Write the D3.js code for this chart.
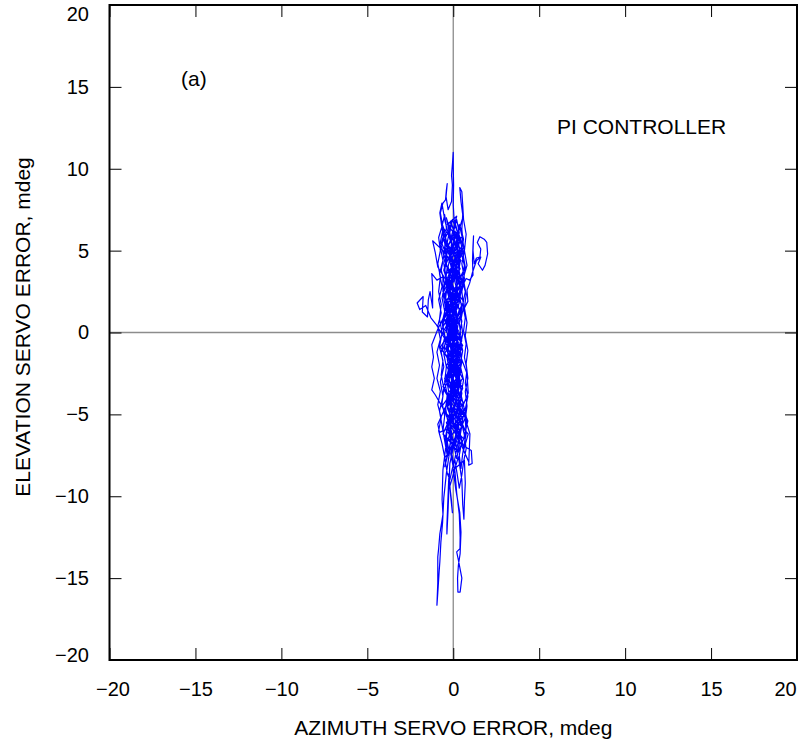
<!DOCTYPE html>
<html>
<head>
<meta charset="utf-8">
<script src="https://cdn.jsdelivr.net/npm/d3@7"></script>
<style>
  body { margin: 0; background: #ffffff; }
  svg text { font-family: "Liberation Sans", Arial, Helvetica, sans-serif; }
</style>
</head>
<body>
<div id="chart"></div>
<script>
// tick values for both axes (mdeg)
var ticks = [-20, -15, -10, -5, 0, 5, 10, 15, 20];

// servo error trace [azimuth, elevation] in pieces
var coreA = [[0.0,0.0],[0.35,1.4],[-0.25,2.6],[0.4,3.9],[-0.15,5.1],[0.45,5.8],[0.05,4.4],[-0.45,3.0],[0.25,1.7],[-0.35,0.3],[0.5,-1.0],[-0.2,-2.3],[0.3,-3.6],[-0.55,-4.7],[0.15,-5.9],[0.6,-5.0],[-0.1,-3.8],[0.45,-2.4],[-0.65,-1.1],[0.1,0.5],[0.6,1.9],[-0.3,3.2],[0.2,4.5],[-0.5,5.7],[-0.1,6.6],[0.3,5.4],[0.7,4.0],[0.1,2.7],[-0.45,1.4],[0.3,0.1],[-0.2,-1.4],[0.55,-2.8],[-0.35,-4.1],[0.4,-5.4],[-0.25,-6.6],[0.3,-7.3],[0.75,-6.1],[0.2,-4.8],[-0.55,-3.5],[0.05,-2.2],[-0.75,-0.9],[0.0,0.4],[0.5,1.7],[-0.2,3.0],[0.45,4.4],[-0.3,5.3],[0.25,6.2],[0.65,5.1],[0.0,3.7],[-0.6,2.4],[0.15,1.0],[-0.4,-0.4],[0.35,-1.7],[-0.1,-3.1],[0.6,-4.3],[-0.4,-5.5],[0.05,-6.8],[-0.45,-7.6],[0.25,-6.3],[0.7,-5.2],[-0.2,-4.0],[0.35,-2.6],[-0.5,-1.3],[0.2,0.2],[-0.1,1.5],[0.55,2.9],[-0.45,4.1],[0.1,5.5],[-0.6,6.4]];

var upperSpike = [[-0.75,7.3],[-0.6,7.9],[-0.45,8.1],[-0.4,8.7],[-0.35,9.1],[-0.42,8.3],[-0.3,7.5],[-0.1,8.0],[-0.05,9.0],[-0.1,9.6],[-0.04,10.4],[0.0,11.0],[0.0,10.1],[0.02,9.0],[0.0,7.8],[0.05,6.9]];

var coreB = [[0.4,5.6],[-0.2,4.3],[0.3,3.0],[-0.5,1.8],[0.15,0.4],[-0.3,-1.0],[0.45,-2.3],[-0.1,-3.7],[0.5,-5.0],[-0.3,-6.1],[0.2,-7.0],[-0.6,-6.2],[-0.05,-4.9],[0.55,-3.4],[-0.25,-2.0],[0.3,-0.6],[-0.55,0.8],[0.2,2.1],[0.75,3.3]];

var rightLoop = [[0.95,3.2],[1.15,3.5],[1.12,4.4],[1.15,5.3],[1.18,5.9],[1.15,5.0],[1.22,4.2],[1.35,4.55],[1.55,4.6],[1.6,5.1],[1.4,5.5],[1.55,5.85],[1.8,5.7],[1.95,5.5],[2.0,4.8],[1.85,4.1],[1.7,3.8],[1.45,4.2],[1.6,4.6],[1.35,4.4],[1.1,3.6],[0.95,3.0],[0.8,2.6],[0.85,1.9]];

var coreC = [[0.4,1.0],[-0.3,-0.3],[0.25,-1.6],[-0.45,-2.9],[0.4,-4.2],[-0.15,-5.6],[0.6,-6.5],[0.85,-5.4],[0.3,-4.0],[-0.4,-2.7],[0.15,-1.2],[-0.7,0.1],[-0.1,1.4],[0.5,2.7],[0.1,4.0],[0.6,5.2],[0.5,6.3],[0.55,7.2],[0.45,8.0],[0.38,8.85],[0.5,8.6],[0.55,7.8],[0.6,6.9],[0.75,6.0],[0.65,5.0],[0.8,4.1],[0.55,3.2],[-0.1,2.0],[0.3,0.7],[-0.45,-0.6],[0.1,-2.0],[-0.6,-3.3],[0.25,-4.6],[-0.35,-5.8],[0.1,-6.9],[0.5,-5.7],[-0.2,-4.4],[0.45,-3.0],[-0.3,-1.6],[0.35,-0.2],[-0.2,1.2],[-0.6,2.5],[-0.6,3.4]];

var leftZigzag = [[-0.95,3.2],[-1.25,3.6],[-1.2,2.8],[-1.2,1.5],[-1.35,2.5],[-1.45,2.0],[-1.5,0.95],[-1.8,1.25],[-1.75,2.2],[-2.1,1.8],[-1.95,1.4],[-1.6,1.65],[-1.3,0.9],[-1.0,0.5],[-0.6,-0.2]];

var coreD = [[0.2,-1.5],[-0.4,-2.8],[0.5,-4.0],[0.1,-5.3],[0.87,-6.2],[0.6,-7.2],[0.9,-7.9],[0.4,-6.7],[-0.3,-5.4],[0.2,-4.1],[-0.5,-2.8],[0.3,-1.4],[-0.25,0.0],[0.45,1.3],[-0.35,2.6],[0.2,3.9],[-0.6,5.0],[-1.2,5.6],[-1.05,4.9],[-0.9,4.0],[-0.3,3.0],[0.35,1.8],[-0.15,0.5],[0.55,-0.8],[-0.4,-2.0],[0.15,-3.3],[-0.65,-4.5],[-0.1,-5.8],[-0.45,-7.1],[-0.6,-8.4]];

var lowerLeftTail = [[-0.65,-10.2],[-0.6,-11.1],[-0.78,-12.3],[-0.85,-13.2],[-0.9,-13.7],[-0.9,-15.3],[-0.95,-16.65],[-0.9,-15.9],[-0.82,-14.6],[-0.78,-14.0],[-0.72,-12.8],[-0.62,-11.6],[-0.55,-10.1],[-0.4,-8.6]];

var coreE = [[-0.2,-7.2],[0.3,-5.9],[-0.5,-4.8],[-1.05,-3.8],[-1.25,-3.5],[-1.1,-2.8],[-1.25,-2.1],[-1.15,-1.5],[-1.25,-0.75],[-0.9,0.2],[-0.3,1.5],[0.4,2.8],[-0.05,4.1],[0.5,5.3],[0.1,6.2],[-0.4,5.1],[0.25,3.7],[-0.55,2.3],[0.05,0.9],[-0.35,-0.5],[0.4,-1.9],[-0.2,-3.2],[0.55,-4.5],[0.87,-3.7],[0.8,-2.5],[0.3,-1.1],[-0.5,0.2],[0.15,1.6],[0.6,2.9],[0.0,4.4],[-0.55,5.6],[-0.78,7.3],[-0.66,7.9],[-0.48,6.8],[-0.2,5.7],[0.25,4.6],[-0.3,3.4],[0.35,2.1],[-0.15,0.8],[0.5,-0.5],[-0.1,-1.9],[0.3,-3.3],[-0.35,-4.6],[0.2,-6.0],[-0.1,-7.3],[0.1,-8.5]];

var lowerRightTail = [[0.2,-9.8],[0.35,-11.1],[0.4,-12.5],[0.39,-13.2],[0.2,-13.4],[0.3,-13.9],[0.5,-15.0],[0.4,-15.85],[0.27,-15.85],[0.25,-15.0],[0.3,-14.2],[0.4,-13.5],[0.45,-12.2],[0.38,-11.0],[0.15,-9.6],[0.0,-8.4]];

var coreF = [[0.65,-7.8],[0.7,-9.2],[0.65,-10.3],[0.62,-11.4],[0.55,-10.5],[0.5,-9.0],[0.3,-7.6],[-0.2,-9.4],[-0.1,-10.3],[-0.05,-11.0],[-0.15,-10.0],[-0.25,-8.6],[-0.37,-11.8],[-0.37,-12.3],[-0.3,-10.8],[-0.2,-8.0],[0.1,-6.6],[1.05,-7.2],[1.1,-8.0],[0.9,-8.1],[0.97,-6.2],[0.6,-4.9],[-0.2,-3.6],[0.4,-2.3],[-0.45,-1.0],[0.2,0.4],[-0.15,1.8],[0.5,3.1],[-0.25,4.4],[0.3,5.7],[-0.35,6.6],[0.2,7.1],[-0.1,5.9],[0.45,4.7],[-0.45,3.5],[0.1,2.2],[-0.55,0.9],[0.3,-0.4],[-0.25,-1.8],[0.45,-3.1],[-0.4,-4.4],[0.25,-5.6],[-0.8,-6.1],[-0.9,-5.6],[-0.3,-4.2],[0.2,-2.9],[-0.05,-1.5],[0.05,0.0]];

var coreG = [[-0.1,0.8],[0.05,1.6],[-0.2,2.4],[-0.05,3.2],[-0.3,4.0],[-0.15,4.8],[-0.35,5.5],[-0.2,6.3],[-0.4,7.0],[-0.25,6.2],[-0.1,5.4],[-0.25,4.5],[0.0,3.7],[-0.15,2.8],[0.1,2.0],[-0.05,1.1],[0.2,0.3],[0.05,-0.6],[0.25,-1.4],[0.1,-2.3],[0.3,-3.1],[0.15,-4.0],[0.35,-4.8],[0.2,-5.7],[0.4,-6.5],[0.25,-7.3],[0.1,-6.5],[0.3,-5.6],[0.05,-4.7],[0.2,-3.8],[-0.05,-2.9],[0.1,-2.0],[-0.15,-1.1],[0.0,-0.2],[-0.25,0.7],[-0.1,1.6],[-0.35,2.5],[-0.2,3.4],[-0.45,4.3],[-0.3,5.2],[-0.5,6.0],[-0.35,5.1],[-0.55,4.2],[-0.4,3.3],[-0.6,2.4],[-0.45,1.5],[-0.65,0.6],[-0.5,-0.3],[-0.7,-1.2],[-0.55,-2.1],[-0.75,-3.0],[-0.6,-3.9],[-0.8,-4.8],[-0.65,-5.7],[-0.5,-6.6],[-0.35,-7.5],[-0.5,-8.2],[-0.3,-7.4],[-0.45,-6.4],[-0.3,-5.5],[-0.45,-4.6],[-0.25,-3.7],[-0.4,-2.8],[-0.2,-1.9],[-0.35,-1.0],[-0.15,-0.1],[-0.3,0.8],[-0.1,1.7],[-0.25,2.6],[0.0,3.5],[-0.1,4.4],[0.15,5.3],[0.0,6.1],[0.2,6.9],[0.35,6.1],[0.2,5.2],[0.4,4.3],[0.25,3.4],[0.45,2.5],[0.3,1.6],[0.5,0.7],[0.35,-0.2],[0.55,-1.1],[0.4,-2.0],[0.6,-2.9],[0.45,-3.8],[0.65,-4.7],[0.5,-5.6],[0.7,-6.5],[0.55,-7.4],[0.45,-8.3],[0.35,-7.5],[0.5,-6.6],[0.3,-5.7],[0.45,-4.8],[0.25,-3.9],[0.4,-3.0],[0.2,-2.1],[0.35,-1.2],[0.15,-0.3],[0.3,0.6],[0.1,1.5],[0.25,2.4],[0.05,3.3],[0.2,4.2],[-0.05,5.1],[0.1,6.0],[-0.15,6.8]];

var coreH = [[-0.3,6.0],[-0.05,5.3],[-0.2,4.6],[0.05,3.9],[-0.1,3.1],[0.15,2.3],[0.0,1.5],[0.25,0.8],[0.1,0.0],[0.3,-0.8],[0.15,-1.6],[0.4,-2.4],[0.2,-3.2],[0.45,-4.0],[0.25,-4.9],[0.5,-5.7],[0.3,-6.6],[0.15,-7.4],[0.0,-8.2],[-0.15,-7.4],[0.0,-6.6],[-0.2,-5.8],[-0.05,-5.0],[-0.25,-4.2],[-0.1,-3.4],[-0.3,-2.6],[-0.15,-1.8],[-0.4,-1.0],[-0.2,-0.2],[-0.45,0.6],[-0.25,1.4],[-0.5,2.2],[-0.3,3.0],[-0.55,3.8],[-0.35,4.6],[-0.65,5.4],[-0.5,6.2],[-0.7,6.8],[-0.55,6.0],[-0.75,5.2],[-0.6,4.4],[-0.8,3.6],[-0.65,2.8],[-0.85,2.0],[-0.7,1.2],[-0.9,0.4],[-0.75,-0.4],[-0.95,-1.2],[-0.8,-2.0],[-0.95,-2.8],[-0.75,-3.6],[-0.9,-4.4],[-0.7,-5.2],[-0.85,-6.0],[-0.65,-6.8],[-0.5,-7.6],[-0.35,-8.6],[-0.2,-9.0],[-0.05,-8.3],[0.1,-7.8],[0.25,-8.8],[0.35,-9.5],[0.5,-8.7],[0.6,-7.9],[0.75,-7.1],[0.65,-6.3],[0.8,-5.5],[0.7,-4.7],[0.85,-3.9],[0.7,-3.1],[0.8,-2.3],[0.65,-1.5],[0.75,-0.7],[0.6,0.1],[0.7,0.9],[0.55,1.7],[0.7,2.5],[0.5,3.3],[0.65,4.1],[0.45,4.9],[0.6,5.7],[0.4,6.5],[0.55,7.0],[0.35,6.3],[0.2,5.5],[0.35,4.7],[0.1,3.9],[0.3,3.1],[0.05,2.3],[0.2,1.5],[-0.05,0.7],[0.1,-0.1]];

var coreI = [[-0.05,-0.9],[0.05,-1.7],[-0.1,-2.5],[0.0,-3.3],[-0.15,-4.1],[-0.05,-4.9],[-0.2,-5.7],[-0.1,-6.5],[-0.25,-7.2],[-0.4,-6.4],[-0.3,-5.5],[-0.45,-4.7],[-0.35,-3.8],[-0.5,-3.0],[-0.4,-2.1],[-0.55,-1.3],[-0.45,-0.4],[-0.6,0.4],[-0.5,1.3],[-0.65,2.1],[-0.5,3.0],[-0.7,3.8],[-0.55,4.7],[-0.75,5.5],[-0.6,6.3],[-0.45,5.6],[-0.55,4.8],[-0.35,4.0],[-0.45,3.1],[-0.25,2.3],[-0.4,1.4],[-0.2,0.6],[-0.3,-0.3],[-0.1,-1.1],[-0.2,-2.0],[0.0,-2.8],[-0.1,-3.7],[0.1,-4.5],[0.0,-5.4],[0.15,-6.2],[0.05,-7.0],[0.2,-7.7],[0.35,-6.9],[0.25,-6.0],[0.4,-5.2],[0.3,-4.3],[0.45,-3.5],[0.35,-2.6],[0.5,-1.8],[0.4,-0.9],[0.55,-0.1],[0.45,0.8],[0.6,1.6],[0.5,2.5],[0.65,3.3],[0.5,4.2],[0.65,5.0],[0.5,5.9],[0.35,6.6],[0.25,5.8],[0.4,4.9],[0.3,4.0],[0.45,3.2],[0.35,2.3],[0.5,1.5],[0.35,0.6],[0.45,-0.3],[0.3,-1.2],[0.45,-2.0],[0.3,-2.9],[0.5,-3.7],[0.35,-4.6],[0.55,-5.4],[0.4,-6.3],[0.6,-7.0],[0.75,-6.2],[0.7,-5.3],[0.8,-4.5],[0.7,-3.6],[0.85,-2.8],[0.75,-1.9],[0.85,-1.1],[0.7,-0.2],[0.8,0.6],[0.65,1.5],[0.75,2.3],[0.6,3.2],[0.7,4.0],[0.55,4.9],[0.4,5.7]];

var coreJ = [[0.15,6.4],[-0.05,6.9],[-0.2,6.1],[-0.05,5.3],[-0.2,4.4],[-0.05,3.6],[-0.2,2.7],[-0.05,1.9],[-0.2,1.0],[-0.05,0.2],[-0.2,-0.7],[-0.05,-1.5],[-0.2,-2.4],[-0.05,-3.2],[-0.25,-4.1],[-0.1,-4.9],[-0.3,-5.8],[-0.15,-6.6],[-0.3,-7.5],[-0.45,-6.8],[-0.6,-6.0],[-0.5,-5.1],[-0.65,-4.3],[-0.55,-3.4],[-0.7,-2.6],[-0.6,-1.7],[-0.8,-0.9],[-0.65,0.0],[-0.8,0.8],[-0.7,1.7],[-0.85,2.5],[-0.75,3.4],[-0.9,4.2],[-0.75,5.0],[-0.85,5.8],[-0.65,6.5],[-0.5,7.2],[-0.4,6.4],[-0.5,5.5],[-0.4,4.6],[-0.5,3.7],[-0.35,2.9],[-0.45,2.0],[-0.3,1.1],[-0.4,0.2],[-0.25,-0.7],[-0.35,-1.6],[-0.2,-2.5],[-0.3,-3.4],[-0.15,-4.3],[-0.25,-5.2],[-0.1,-6.1],[0.05,-7.0],[0.2,-6.2],[0.1,-5.3],[0.25,-4.4],[0.1,-3.6],[0.25,-2.7],[0.1,-1.8],[0.25,-0.9],[0.1,0.0],[0.25,0.9],[0.1,1.8],[0.25,2.7],[0.1,3.6],[0.3,4.5],[0.15,5.4],[0.3,6.2],[0.05,5.6]];

var trace = [].concat(coreA, upperSpike, coreB, rightLoop, coreC, leftZigzag,
    coreD, lowerLeftTail, coreE, lowerRightTail, coreF, coreG, coreH, coreI, coreJ);

var margin = { top: 5, right: 2, bottom: 90, left: 109.5 },
    width = 799 - margin.left - margin.right,
    height = 750 - margin.top - margin.bottom;

var x = d3.scaleLinear().domain([-20, 20]).range([0, width]);
var y = d3.scaleLinear().domain([-20, 20]).range([height, 0]);

var svg = d3
    .select("#chart")
    .append("svg")
    .attr("width", 799)
    .attr("height", 750)
    .append("g")
    .attr("transform", "translate(" + margin.left + "," + margin.top + ")");

// zero lines
svg.append("line")
    .attr("x1", x(0)).attr("x2", x(0))
    .attr("y1", 0).attr("y2", height)
    .attr("stroke", "#8c8c8c")
    .attr("stroke-width", 1.3);
svg.append("line")
    .attr("x1", 0).attr("x2", width)
    .attr("y1", y(0)).attr("y2", y(0))
    .attr("stroke", "#8c8c8c")
    .attr("stroke-width", 1.3);

// the trace
var line = d3.line()
    .x(function (d) { return x(d[0]); })
    .y(function (d) { return y(d[1]); });

svg.append("path")
    .datum(trace)
    .attr("fill", "none")
    .attr("stroke", "#0000ff")
    .attr("stroke-width", 1.2)
    .attr("stroke-linejoin", "round")
    .attr("d", line);

// axes, ticks pointing inward on all four sides
var bottom = svg.append("g")
    .attr("transform", "translate(0," + height + ")")
    .call(d3.axisBottom(x).tickValues(ticks).tickSizeInner(-12).tickSizeOuter(0).tickPadding(22));
var left = svg.append("g")
    .call(d3.axisLeft(y).tickValues(ticks).tickSizeInner(-12).tickSizeOuter(0).tickPadding(20.5));
svg.append("g")
    .call(d3.axisTop(x).tickValues(ticks).tickSizeInner(-12).tickSizeOuter(0).tickFormat(""));
svg.append("g")
    .attr("transform", "translate(" + width + ",0)")
    .call(d3.axisRight(y).tickValues(ticks).tickSizeInner(-12).tickSizeOuter(0).tickFormat(""));

svg.selectAll(".domain").remove();
svg.selectAll(".tick line").attr("stroke", "#000").attr("stroke-width", 1);
svg.selectAll(".tick text")
    .attr("fill", "#000")
    .style("font-size", "20px");

// end labels are pulled inside so they are not clipped
left.selectAll(".tick text")
    .attr("y", function (d) { return d === 20 ? 9 : d === -20 ? -5 : 0; });
bottom.selectAll(".tick text")
    .attr("x", function (d) { return d === 20 ? -12 : d === -20 ? 3 : 0; });

// frame
svg.append("rect")
    .attr("x", 0).attr("y", 0)
    .attr("width", width).attr("height", height)
    .attr("fill", "none")
    .attr("stroke", "#000")
    .attr("stroke-width", 2);

// annotations
svg.append("text")
    .attr("x", 181 - margin.left)
    .attr("y", 86 - margin.top)
    .style("font-size", "21px")
    .text("(a)");

svg.append("text")
    .attr("x", 557 - margin.left)
    .attr("y", 134 - margin.top)
    .style("font-size", "21px")
    .text("PI CONTROLLER");

// axis titles
svg.append("text")
    .attr("x", width / 2)
    .attr("y", 735 - margin.top)
    .attr("text-anchor", "middle")
    .style("font-size", "21px")
    .text("AZIMUTH SERVO ERROR, mdeg");

svg.append("text")
    .attr("transform", "translate(" + (30 - margin.left) + "," + (327 - margin.top) + ") rotate(-90)")
    .attr("text-anchor", "middle")
    .style("font-size", "21px")
    .text("ELEVATION SERVO ERROR, mdeg");
</script>
</body>
</html>
